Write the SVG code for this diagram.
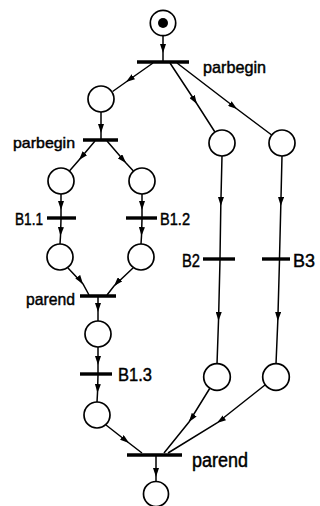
<svg xmlns="http://www.w3.org/2000/svg" width="320" height="506" viewBox="0 0 320 506">
  <style>
    .place { fill: #fff; stroke: #000; stroke-width: 1.7; }
    .bar { stroke: #000; stroke-width: 3.4; stroke-linecap: butt; }
    .arc { fill: none; stroke: #000; stroke-width: 1.5; marker-mid: url(#arrow); }
    .lbl { font-family: "Liberation Sans", Arial, sans-serif; fill: #000; stroke: #000; stroke-width: 0.45; }
  </style>
  <defs>
    <marker id="arrow" viewBox="0 0 9 6" refX="9" refY="3" markerWidth="9" markerHeight="6" markerUnits="userSpaceOnUse" orient="auto">
      <path d="M0,0 L9,3 L0,6 z" fill="#000"/>
    </marker>
  </defs>

  <!-- arcs: start, arrowhead tip, end -->
  <g id="connectors">
    <polyline class="arc" points="163,36 163,53 163,61"/>
    <polyline class="arc" points="153,63 126,82 112.6,91.5"/>
    <polyline class="arc" points="170,63 197,104 214.9,132"/>
    <polyline class="arc" points="177,63 237,109 271.7,135"/>
    <polyline class="arc" points="101,112 101,133 101,139"/>
    <polyline class="arc" points="95,141 79,160 69.4,171"/>
    <polyline class="arc" points="107,141 126,163 133.4,171"/>
    <polyline class="arc" points="61,194 61,210 61,217"/>
    <polyline class="arc" points="61,219 60.5,236 60,244"/>
    <polyline class="arc" points="142,194 142,210 142,217"/>
    <polyline class="arc" points="142,219 141.5,236 141,244"/>
    <polyline class="arc" points="68,268 83,284 89,295"/>
    <polyline class="arc" points="133,268 114,286 107,295"/>
    <polyline class="arc" points="98,297 98,312 98,321"/>
    <polyline class="arc" points="222,156 220.8,206 220,258"/>
    <polyline class="arc" points="220,260 218.5,321 217,364"/>
    <polyline class="arc" points="282,156 280.8,206 279.5,258"/>
    <polyline class="arc" points="279.5,260 277.8,321 276,364"/>
    <polyline class="arc" points="98,347 98,365 98,373"/>
    <polyline class="arc" points="98,375 97.5,393 97,402"/>
    <polyline class="arc" points="106,425 129,443 142,453"/>
    <polyline class="arc" points="210,388 189,422 164,453"/>
    <polyline class="arc" points="265,385 217,423 168,453"/>
    <polyline class="arc" points="156,456 156,477 156,481"/>
  </g>

  <!-- transitions -->
  <g id="t-parbegin-1"><line class="bar" x1="137" y1="62" x2="189" y2="62"/><text class="lbl" x="203" y="73" font-size="17" textLength="63" lengthAdjust="spacingAndGlyphs">parbegin</text></g>
  <g id="t-parbegin-2"><line class="bar" x1="83" y1="140" x2="118" y2="140"/><text class="lbl" x="13" y="148" font-size="15" textLength="62" lengthAdjust="spacingAndGlyphs">parbegin</text></g>
  <g id="t-b11"><line class="bar" x1="47" y1="218" x2="76" y2="218"/><text class="lbl" x="15" y="225" font-size="17" textLength="28" lengthAdjust="spacingAndGlyphs">B1.1</text></g>
  <g id="t-b12"><line class="bar" x1="126" y1="218" x2="157" y2="218"/><text class="lbl" x="160" y="225" font-size="17" textLength="30" lengthAdjust="spacingAndGlyphs">B1.2</text></g>
  <g id="t-parend-1"><line class="bar" x1="80" y1="296" x2="116" y2="296"/><text class="lbl" x="26" y="305" font-size="17" textLength="49" lengthAdjust="spacingAndGlyphs">parend</text></g>
  <g id="t-b2"><line class="bar" x1="203" y1="259" x2="235" y2="259"/><text class="lbl" x="182" y="267" font-size="19" textLength="18" lengthAdjust="spacingAndGlyphs">B2</text></g>
  <g id="t-b3"><line class="bar" x1="262" y1="259" x2="290" y2="259"/><text class="lbl" x="293" y="267" font-size="19" textLength="22" lengthAdjust="spacingAndGlyphs">B3</text></g>
  <g id="t-b13"><line class="bar" x1="80" y1="374" x2="112" y2="374"/><text class="lbl" x="118" y="381" font-size="18" textLength="34" lengthAdjust="spacingAndGlyphs">B1.3</text></g>
  <g id="t-parend-2"><line class="bar" x1="127" y1="455" x2="182" y2="455"/><text class="lbl" x="192" y="467" font-size="20" textLength="56" lengthAdjust="spacingAndGlyphs">parend</text></g>

  <!-- places -->
  <g id="p-start"><circle class="place" cx="163" cy="23" r="12.7"/><circle cx="163" cy="23" r="5" fill="#000"/></g>
  <g id="p-b1"><circle class="place" cx="101" cy="99" r="13"/></g>
  <g id="p-b2-in"><circle class="place" cx="222" cy="143" r="13"/></g>
  <g id="p-b3-in"><circle class="place" cx="282" cy="143" r="13"/></g>
  <g id="p-b11-in"><circle class="place" cx="61" cy="181" r="13"/></g>
  <g id="p-b12-in"><circle class="place" cx="142" cy="181" r="13"/></g>
  <g id="p-b11-out"><circle class="place" cx="60" cy="257" r="13"/></g>
  <g id="p-b12-out"><circle class="place" cx="141" cy="257" r="13"/></g>
  <g id="p-b13-in"><circle class="place" cx="98" cy="334" r="13"/></g>
  <g id="p-b13-out"><circle class="place" cx="97" cy="415" r="13"/></g>
  <g id="p-b2-out"><circle class="place" cx="217" cy="377" r="13.3"/></g>
  <g id="p-b3-out"><circle class="place" cx="276" cy="377" r="13.3"/></g>
  <g id="p-end"><circle class="place" cx="156" cy="494" r="12.5"/></g>
</svg>
